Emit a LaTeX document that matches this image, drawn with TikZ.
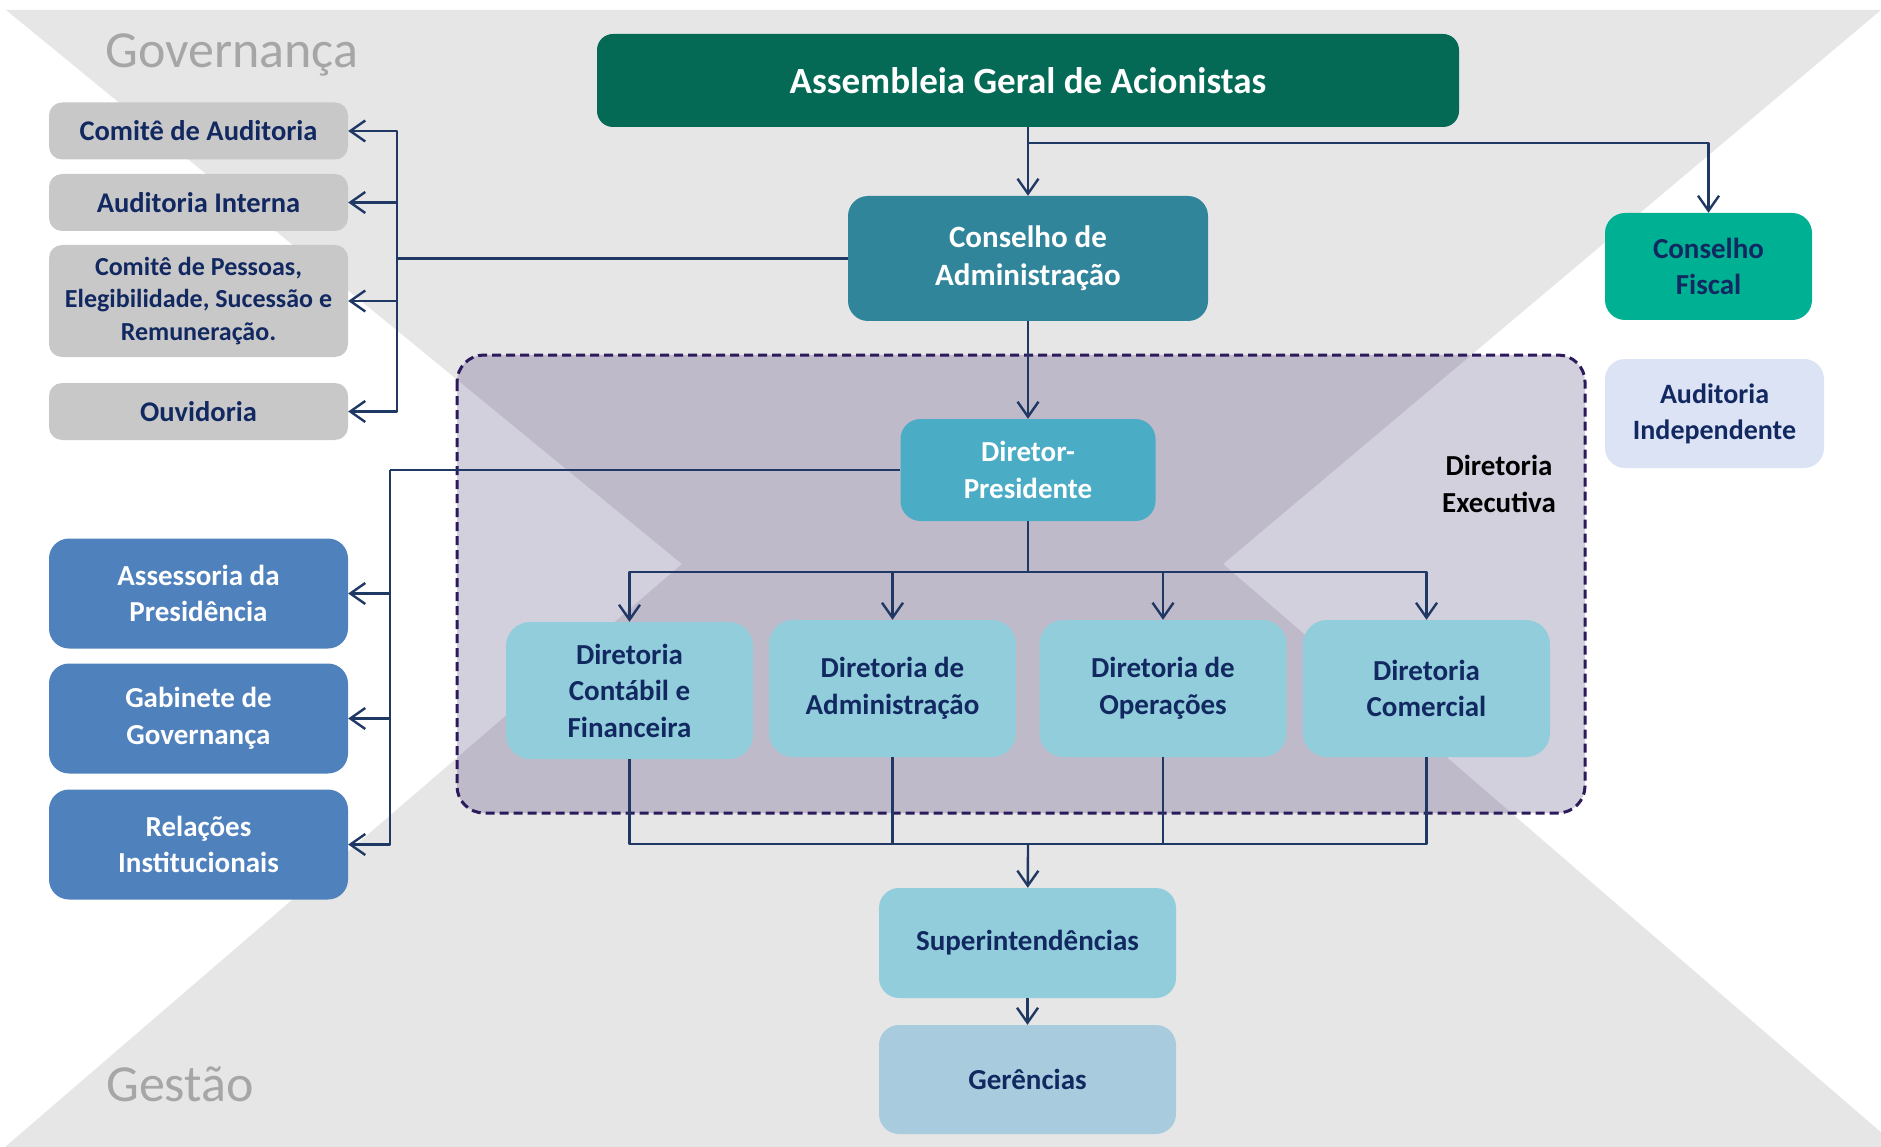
\documentclass[tikz,border=0pt]{standalone}
\usepackage{fontspec}
\setmainfont{Carlito}
\usetikzlibrary{arrows.meta}
\definecolor{fundo}{RGB}{230,230,230}
\definecolor{execA}{RGB}{211,208,222}
\definecolor{execB}{RGB}{190,186,201}
\definecolor{tracejado}{RGB}{44,26,92}
\definecolor{linha}{RGB}{32,56,100}
\definecolor{azulesc}{RGB}{18,40,96}
\definecolor{verdeAG}{RGB}{4,106,85}
\definecolor{tealCA}{RGB}{49,133,155}
\definecolor{verdeCF}{RGB}{0,176,147}
\definecolor{lilasAI}{RGB}{219,227,244}
\definecolor{azulDP}{RGB}{75,172,198}
\definecolor{azulDir}{RGB}{146,205,220}
\definecolor{azulGer}{RGB}{168,204,221}
\definecolor{cinzaBox}{RGB}{200,200,200}
\definecolor{azulBox}{RGB}{79,129,189}
\definecolor{cinzaTxt}{RGB}{166,166,166}
\tikzset{
  caixa/.style={rounded corners=20pt, align=center, inner sep=0pt, text=azulesc,
    font=\fontsize{29}{36.5}\selectfont\bfseries},
  gov/.style={caixa, fill=cinzaBox, rounded corners=13pt, minimum width=299pt},
  apoio/.style={caixa, fill=azulBox, text=white, minimum width=299pt, minimum height=110pt},
  diretoria/.style={caixa, fill=azulDir, rounded corners=24pt, minimum width=247pt, minimum height=137pt},
  fio/.style={draw=linha, line width=2.4pt},
  titulo/.style={inner sep=0pt, anchor=base west, text=cinzaTxt, font=\fontsize{52}{60}\selectfont}
}
\begin{document}
\begin{tikzpicture}[x=1pt, y=-1pt, line join=round, >={Straight Barb[length=15pt,width=21pt]}]
\useasboundingbox (0,0) rectangle (1881,1147);
\def\ampulheta{(6,10) -- (1881,10) -- (1223,564) -- (1898,1147) -- (5,1147) -- (682,564) -- cycle}
\def\execbox{(457,355) rectangle (1585,813)}
\fill[fundo] \ampulheta;
\fill[execA, rounded corners=27pt] \execbox;
\begin{scope}
  \clip[rounded corners=27pt] \execbox;
  \fill[execB] \ampulheta;
\end{scope}
\draw[tracejado, line width=3pt, dash pattern=on 9pt off 5pt, rounded corners=27pt] \execbox;

\node[titulo] (tgov) at (105,68) {Governança};
\node[titulo] (tges) at (106,1101) {Gestão};

\node[caixa, fill=verdeAG, text=white, rounded corners=16pt, minimum width=862pt, minimum height=93pt,
  font=\fontsize{37}{44}\selectfont\bfseries] (ag) at (1028,80.5) {Assembleia Geral de Acionistas};
\node[caixa, fill=tealCA, text=white, minimum width=360pt, minimum height=125pt,
  font=\fontsize{31}{38}\selectfont\bfseries] (ca) at (1028,258.5) {Conselho de\\Administração};
\node[caixa, fill=verdeCF, minimum width=207pt, minimum height=107pt] (cf) at (1708.5,266.5) {Conselho\\Fiscal};
\node[caixa, fill=lilasAI, minimum width=219pt, minimum height=109pt,
  font=\fontsize{28}{36}\selectfont\bfseries] (ai) at (1714.5,413.5) {Auditoria\\Independente};
\node[caixa, fill=azulDP, text=white, minimum width=255pt, minimum height=102pt] (dp) at (1028,470) {Diretor-\\Presidente};
\node[caixa, text=black, fill=none] (tdex) at (1499,484) {Diretoria\\Executiva};

\node[diretoria] (dcf) at (629.5,690.5) {Diretoria\\Contábil e\\Financeira};
\node[diretoria] (dad) at (892.5,688.5) {Diretoria de\\Administração};
\node[diretoria] (dop) at (1163,688.5) {Diretoria de\\Operações};
\node[diretoria] (dco) at (1426.5,688.5) {Diretoria\\Comercial};
\node[caixa, fill=azulDir, minimum width=297pt, minimum height=110pt] (sup) at (1027.5,943) {Superintendências};
\node[caixa, fill=azulGer, minimum width=297pt, minimum height=109pt] (ger) at (1027.5,1079.5) {Gerências};

\node[gov, minimum height=57pt, font=\fontsize{28.5}{36}\selectfont\bfseries] (caud) at (198.5,131) {Comitê de Auditoria};
\node[gov, minimum height=57pt, font=\fontsize{28.5}{36}\selectfont\bfseries] (aint) at (198.5,202.5) {Auditoria Interna};
\node[gov, minimum height=112pt, font=\fontsize{26}{32.5}\selectfont\bfseries] (cpes) at (198.5,301) {Comitê de Pessoas,\\Elegibilidade, Sucessão e\\Remuneração.};
\node[gov, minimum height=57pt, font=\fontsize{28.5}{36}\selectfont\bfseries] (ouv) at (198.5,411.5) {Ouvidoria};

\node[apoio] (ass) at (198.5,593.5) {Assessoria da\\Presidência};
\node[apoio] (gab) at (198.5,718.5) {Gabinete de\\Governança};
\node[apoio] (rel) at (198.5,844.5) {Relações\\Institucionais};

\draw[fio, ->] (ag) -- (ca);
\coordinate (bcf) at (1028,143);
\draw[fio, ->] (bcf) -| (cf.north);
\draw[fio, ->] (ca) -- (dp);

\coordinate (bgov) at (397,258.5);
\draw[fio] (ca.west) -- (bgov);
\foreach \n in {caud,aint,cpes,ouv}
  \draw[fio, ->] (bgov) |- (\n.east);

\coordinate (bass) at (390,470);
\draw[fio] (dp.west) -- (bass);
\foreach \n in {ass,gab,rel}
  \draw[fio, ->] (bass) |- (\n.east);

\coordinate (bdir) at (1028,572);
\draw[fio] (dp.south) -- (bdir);
\foreach \n in {dcf,dad,dop,dco}
  \draw[fio, ->] (bdir) -| (\n.north);

\coordinate (bsup) at (1028,844);
\foreach \n in {dcf,dad,dop,dco}
  \draw[fio] (\n.south) |- (bsup);
\draw[fio, ->] (bsup) -- (sup);
\draw[fio, ->] (sup) -- (ger);
\end{tikzpicture}
\end{document}
